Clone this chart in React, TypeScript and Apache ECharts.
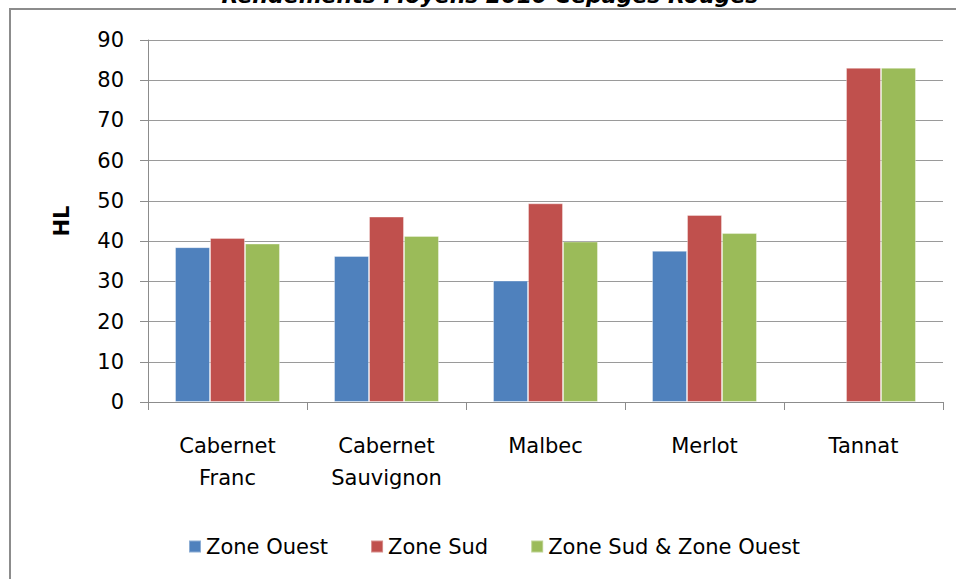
import React, { useEffect, useRef } from "react";
import * as echarts from "echarts";

const categories = ["Cabernet\nFranc", "Cabernet\nSauvignon", "Malbec", "Merlot", "Tannat"];
const zoneOuest: (number | null)[] = [38.5, 36.3, 30.2, 37.6, null];
const zoneSud = [40.8, 46.1, 49.4, 46.5, 83.1];
const zoneSudOuest = [39.4, 41.3, 39.9, 42.0, 83.1];
const seriesNames = ["Zone Ouest", "Zone Sud", "Zone Sud & Zone Ouest"];
const colors = ["#4F81BD", "#C0504D", "#9BBB59"];
const titleText = "Rendements Moyens 2010 Cépages Rouges";

export default function App() {
  const ref = useRef<HTMLDivElement>(null);
  useEffect(() => {
    if (!ref.current) return;
    const chart = echarts.init(ref.current, undefined, { renderer: "svg" });
    const font = "'DejaVu Sans', sans-serif";
    const data = [zoneOuest, zoneSud, zoneSudOuest];
    chart.setOption({
      animation: false,
      backgroundColor: "#ffffff",
      graphic: [
        {
          type: "rect",
          shape: { x: 10, y: 9, width: 1000, height: 700 },
          style: { fill: "none", stroke: "#8c8c8c", lineWidth: 2 },
          z: -1,
        },
        {
          type: "text",
          x: 490,
          y: 6,
          style: {
            text: titleText,
            fill: "#000",
            font: "italic bold 22px 'DejaVu Sans', sans-serif",
            align: "center",
            verticalAlign: "bottom",
          },
        },
      ],
      grid: { left: 148, right: 13, top: 40, bottom: 177, containLabel: false },
      legend: {
        data: seriesNames,
        top: 531,
        left: 183,
        itemWidth: 12,
        itemHeight: 12,
        itemGap: 42,
        icon: "rect",
        textStyle: { fontFamily: font, fontSize: 21, color: "#000", padding: [0, 0, 0, 0] },
      },
      xAxis: {
        type: "category",
        data: categories,
        axisLine: { lineStyle: { color: "#8c8c8c", width: 1 } },
        axisTick: { show: true, length: 8, lineStyle: { color: "#8c8c8c" } },
        axisLabel: { fontFamily: font, fontSize: 21, color: "#000", lineHeight: 32, margin: 28 },
      },
      yAxis: {
        type: "value",
        min: 0,
        max: 90,
        interval: 10,
        name: "HL",
        nameLocation: "middle",
        nameRotate: 90,
        nameGap: 76,
        nameTextStyle: { fontFamily: font, fontSize: 21, fontWeight: "bold", color: "#000" },
        axisLine: { show: true, lineStyle: { color: "#8c8c8c", width: 1 } },
        axisTick: { show: true, length: 8, lineStyle: { color: "#8c8c8c" } },
        axisLabel: { fontFamily: font, fontSize: 21, color: "#000", margin: 24 },
        splitLine: { lineStyle: { color: "#9a9a9a", width: 1 } },
      },
      series: seriesNames.map((name, i) => ({
        name,
        type: "bar",
        data: data[i],
        barGap: "0%",
        barCategoryGap: "34%",
        itemStyle: { color: colors[i], borderColor: "rgba(255,255,255,0.35)", borderWidth: 1 },
      })),
    });
    return () => chart.dispose();
  }, []);
  return (
    <div
      ref={ref}
      style={{ position: "fixed", left: 0, top: 0, width: 956, height: 579 }}
    />
  );
}
